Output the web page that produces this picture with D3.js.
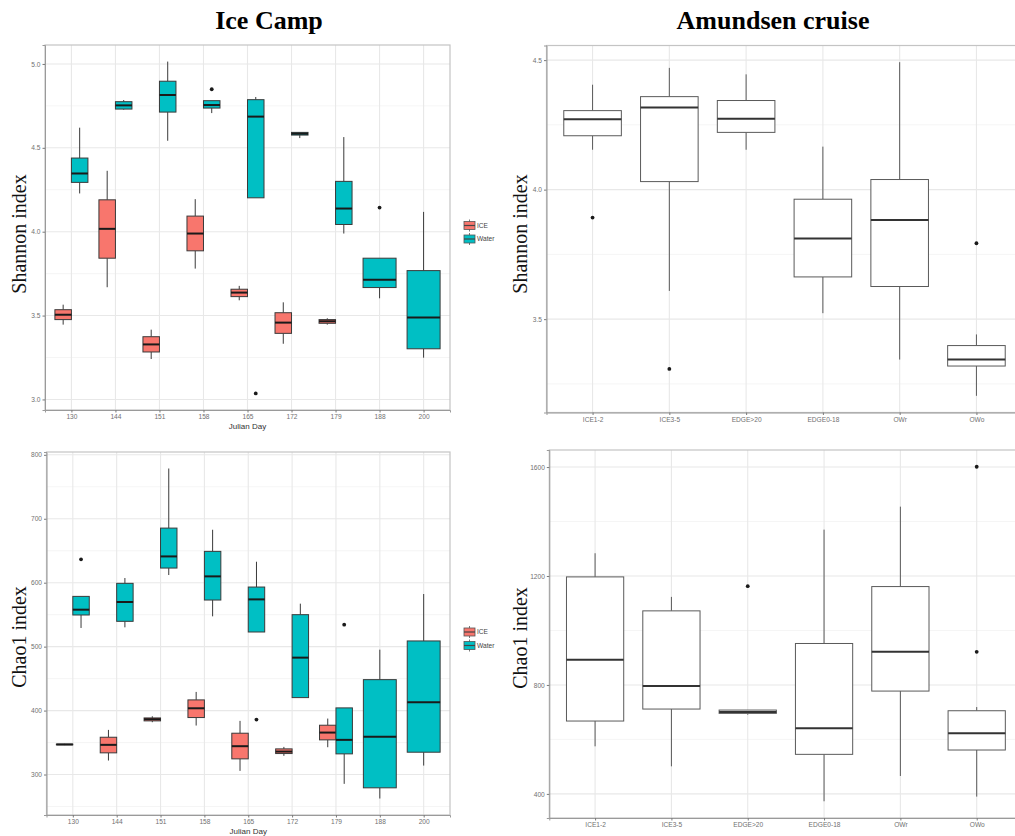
<!DOCTYPE html>
<html>
<head>
<meta charset="utf-8">
<script src="https://cdn.jsdelivr.net/npm/d3@7"></script>
<style>
	body { margin: 0; background: #fff; }
	svg { display: block; }
</style>
</head>
<body>
<div id="chart"></div>
<script>
let width = 1015,
	height = 836;

const julianDays = ['130', '144', '151', '158', '165', '172', '179', '188', '200'];
const habitats = ['ICE', 'Water'];
const habitatColors = ['#F8766D', '#00BFC4'];
const stations = ['ICE1-2', 'ICE3-5', 'EDGE>20', 'EDGE0-18', 'OWr', 'OWo'];

// rows are [category, whisker low, q1, median, q3, whisker high]
const shannonIce = [
	['130', 3.446, 3.476, 3.505, 3.535, 3.565],
	['144', 3.669, 3.842, 4.017, 4.19, 4.363],
	['151', 3.241, 3.283, 3.328, 3.374, 3.416],
	['158', 3.78, 3.886, 3.989, 4.093, 4.194],
	['165', 3.591, 3.613, 3.637, 3.657, 3.677],
	['172', 3.332, 3.394, 3.458, 3.517, 3.579],
	['179', 3.446, 3.454, 3.466, 3.476, 3.484],
];
const shannonWater = [
	['130', 4.228, 4.294, 4.347, 4.439, 4.62],
	['144', 4.727, 4.731, 4.753, 4.775, 4.785],
	['151', 4.542, 4.713, 4.815, 4.897, 5.014],
	['158', 4.707, 4.737, 4.755, 4.781, 4.781],
	['165', 4.202, 4.202, 4.686, 4.787, 4.803],
	['172', 4.558, 4.576, 4.584, 4.592, 4.592],
	['179', 3.989, 4.043, 4.138, 4.3, 4.564],
	['188', 3.603, 3.667, 3.714, 3.842, 3.842],
	['200', 3.249, 3.302, 3.488, 3.768, 4.118],
];
const shannonOutliers = [
	['158', 'Water', 4.849],
	['165', 'Water', 3.036],
	['188', 'Water', 4.144],
];

const chaoIce = [
	['130', 346, 346.5, 347, 347.5, 348],
	['144', 321.9, 333.9, 346.4, 358.3, 369.8],
	['151', 381.8, 383.9, 386.5, 388.5, 391.1],
	['158', 376.6, 389.1, 403.6, 416.7, 429.2],
	['165', 305.7, 324.5, 344.3, 364.6, 383.9],
	['172', 329.2, 332.8, 335.9, 340.1, 343.2],
	['179', 342.7, 354.2, 365.6, 377.1, 387.5],
];
const chaoWater = [
	['130', 529.2, 549.5, 557.8, 578.6, 578.6],
	['144', 530.2, 539.6, 569.8, 599.0, 607.3],
	['151', 612.0, 622.9, 641.1, 685.4, 778.6],
	['158', 547.4, 572.9, 609.9, 649.0, 682.8],
	['165', 522.9, 522.9, 573.9, 593.2, 632.8],
	['172', 420.3, 420.3, 482.8, 550.0, 567.2],
	['179', 285.4, 332.3, 354.2, 404.2, 404.2],
	['188', 262.5, 279.2, 358.9, 448.4, 495.3],
	['200', 314.0, 334.9, 413.0, 508.9, 582.3],
];
const chaoOutliers = [
	['130', 'Water', 636.5],
	['165', 'Water', 385.9],
	['179', 'Water', 534.4],
];

const cruiseShannon = [
	['ICE1-2', 4.154, 4.208, 4.272, 4.305, 4.405],
	['ICE3-5', 3.609, 4.031, 4.317, 4.359, 4.47],
	['EDGE>20', 4.154, 4.221, 4.274, 4.344, 4.445],
	['EDGE0-18', 3.523, 3.663, 3.811, 3.963, 4.166],
	['OWr', 3.344, 3.626, 3.883, 4.039, 4.492],
	['OWo', 3.204, 3.319, 3.344, 3.398, 3.441],
];
const cruiseShannonOutliers = [
	['ICE1-2', 'all', 3.892],
	['ICE3-5', 'all', 3.308],
	['OWo', 'all', 3.793],
];
const cruiseChao = [
	['ICE1-2', 574.6, 667.5, 892.4, 1196.7, 1283.5],
	['ICE3-5', 501.2, 711.5, 795.8, 1072.0, 1123.3],
	['EDGE>20', 690.7, 695.6, 700.5, 707.8, 707.8],
	['EDGE0-18', 372.9, 545.2, 640.6, 952.2, 1370.2],
	['OWr', 465.8, 777.5, 921.7, 1161.2, 1454.6],
	['OWo', 390.0, 561.1, 622.2, 705.3, 718.8],
];
const cruiseChaoOutliers = [
	['EDGE>20', 'all', 1162.5],
	['OWo', 'all', 1601.2],
	['OWo', 'all', 921.7],
];

const shannonCampTicks = [3.0, 3.5, 4.0, 4.5, 5.0];
const chaoCampTicks = [300, 400, 500, 600, 700, 800];
const shannonCruiseTicks = [3.5, 4.0, 4.5];
const chaoCruiseTicks = [400, 800, 1200, 1600];

var svg = d3.select('#chart').append('svg').attr('width', width).attr('height', height);
svg.append('rect').attr('width', width).attr('height', height).attr('fill', '#fff');

function toBoxes(rows, group) {
	return rows.map(function (r) {
		return { cat: r[0], group: group, lo: r[1], q1: r[2], med: r[3], q3: r[4], hi: r[5] };
	});
}

function drawPanel(p) {
	var g = svg.append('g');

	var x = d3.scalePoint().domain(p.cats).range([p.left, p.right]).padding(0.6);
	var step = x.step();

	// y range from whiskers and outliers, 5% expansion like ggplot
	var vals = [];
	p.boxes.forEach(function (b) {
		vals.push(b.lo, b.hi);
	});
	p.outliers.forEach(function (o) {
		vals.push(o[2]);
	});
	var ext = d3.extent(vals);
	var pad = (ext[1] - ext[0]) * 0.05;
	var y = d3.scaleLinear().domain([ext[0] - pad, ext[1] + pad]).range([p.bottom, p.top]);

	// minor grid at half steps
	var half = (p.ticks[1] - p.ticks[0]) / 2;
	var minor = [];
	for (var v = p.ticks[0] - half; v <= y.domain()[1]; v += half * 2) {
		if (v >= y.domain()[0]) minor.push(v);
	}
	g.selectAll('.minor')
		.data(minor)
		.enter()
		.append('line')
		.attr('x1', p.left)
		.attr('x2', p.right)
		.attr('y1', (d) => y(d))
		.attr('y2', (d) => y(d))
		.attr('stroke', '#f3f3f3')
		.attr('stroke-width', 0.8);
	g.selectAll('.major')
		.data(p.ticks)
		.enter()
		.append('line')
		.attr('x1', p.left)
		.attr('x2', p.right)
		.attr('y1', (d) => y(d))
		.attr('y2', (d) => y(d))
		.attr('stroke', '#e8e8e8')
		.attr('stroke-width', 1.1);
	g.selectAll('.vgrid')
		.data(p.cats)
		.enter()
		.append('line')
		.attr('x1', (d) => x(d))
		.attr('x2', (d) => x(d))
		.attr('y1', p.top)
		.attr('y2', p.bottom)
		.attr('stroke', '#e8e8e8')
		.attr('stroke-width', 1.1);

	// dodge: boxes share 0.75 of a step when both groups exist
	var groupsAt = {};
	p.boxes.forEach(function (b) {
		groupsAt[b.cat] = (groupsAt[b.cat] || []).concat(b.group);
	});
	function boxX(cat, group) {
		var gs = groupsAt[cat] || [group];
		var w = (step * 0.75) / gs.length;
		var i = gs.indexOf(group);
		if (i < 0) i = 0;
		return { x0: x(cat) - (step * 0.75) / 2 + i * w, w: w };
	}

	var boxG = g.selectAll('.box').data(p.boxes).enter().append('g');
	boxG.each(function (b) {
		var sel = d3.select(this);
		var bx = boxX(b.cat, b.group);
		var cx = bx.x0 + bx.w / 2;
		sel.append('line')
			.attr('x1', cx)
			.attr('x2', cx)
			.attr('y1', y(b.hi))
			.attr('y2', y(b.q3))
			.attr('stroke', p.stroke)
			.attr('stroke-width', 1);
		sel.append('line')
			.attr('x1', cx)
			.attr('x2', cx)
			.attr('y1', y(b.q1))
			.attr('y2', y(b.lo))
			.attr('stroke', p.stroke)
			.attr('stroke-width', 1);
		sel.append('rect')
			.attr('x', bx.x0)
			.attr('y', y(b.q3))
			.attr('width', bx.w)
			.attr('height', Math.max(0.5, y(b.q1) - y(b.q3)))
			.attr('fill', p.fill(b.group))
			.attr('stroke', p.stroke)
			.attr('stroke-width', 1);
		sel.append('line')
			.attr('x1', bx.x0)
			.attr('x2', bx.x0 + bx.w)
			.attr('y1', y(b.med))
			.attr('y2', y(b.med))
			.attr('stroke', p.medStroke)
			.attr('stroke-width', 2);
	});

	g.selectAll('.outlier')
		.data(p.outliers)
		.enter()
		.append('circle')
		.attr('cx', function (d) {
			var bx = boxX(d[0], d[1]);
			return bx.x0 + bx.w / 2;
		})
		.attr('cy', (d) => y(d[2]))
		.attr('r', 1.9)
		.attr('fill', '#1a1a1a');

	// panel border
	g.append('rect')
		.attr('x', p.left)
		.attr('y', p.top)
		.attr('width', p.right - p.left)
		.attr('height', p.bottom - p.top)
		.attr('fill', 'none')
		.attr('stroke', '#c4c4c4')
		.attr('stroke-width', 1.2);

	var yAxis = d3.axisLeft(y).tickValues(p.ticks).tickFormat(p.fmt).tickSize(2.5).tickPadding(2);
	var ya = g.append('g').attr('transform', 'translate(' + p.left + ',0)').call(yAxis);
	var xAxis = d3.axisBottom(x).tickSize(2.5).tickPadding(2);
	var xa = g.append('g').attr('transform', 'translate(0,' + p.bottom + ')').call(xAxis);
	[ya, xa].forEach(function (a) {
		a.select('.domain').attr('stroke', '#9a9a9a').attr('stroke-width', 1);
		a.selectAll('.tick line').attr('stroke', '#7a7a7a');
		a.selectAll('.tick text')
			.attr('fill', '#707070')
			.style('font-family', 'Liberation Sans, Arial, sans-serif')
			.style('font-size', '6.6px');
	});

	g.append('text')
		.attr('transform', 'translate(' + p.yTitleX + ',' + p.yTitleY + ') rotate(-90)')
		.attr('text-anchor', 'middle')
		.style('font-family', 'Liberation Serif, Times New Roman, serif')
		.style('font-size', '20px')
		.attr('fill', '#111')
		.text(p.yTitle);

	if (p.xTitle) {
		g.append('text')
			.attr('x', (p.left + p.right) / 2)
			.attr('y', p.bottom + 19)
			.attr('text-anchor', 'middle')
			.style('font-family', 'Liberation Sans, Arial, sans-serif')
			.style('font-size', '8px')
			.attr('fill', '#333')
			.text(p.xTitle);
	}

	if (p.legendY) {
		var lg = g.append('g');
		habitats.forEach(function (h, i) {
			var ly = p.legendY + i * 13.5;
			lg.append('line')
				.attr('x1', 469.5)
				.attr('x2', 469.5)
				.attr('y1', ly - 6)
				.attr('y2', ly + 6)
				.attr('stroke', '#555')
				.attr('stroke-width', 0.8);
			lg.append('rect')
				.attr('x', 464)
				.attr('y', ly - 4)
				.attr('width', 11)
				.attr('height', 8)
				.attr('fill', habitatColors[i])
				.attr('stroke', '#555')
				.attr('stroke-width', 0.8);
			lg.append('line')
				.attr('x1', 464)
				.attr('x2', 475)
				.attr('y1', ly)
				.attr('y2', ly)
				.attr('stroke', '#444')
				.attr('stroke-width', 1.2);
			lg.append('text')
				.attr('x', 477)
				.attr('y', ly + 2.4)
				.style('font-family', 'Liberation Sans, Arial, sans-serif')
				.style('font-size', '6.6px')
				.attr('fill', '#444')
				.text(h);
		});
	}
}

var habitatColor = d3.scaleOrdinal().domain(habitats).range(habitatColors);

drawPanel({
	left: 45,
	right: 450,
	top: 45,
	bottom: 410,
	cats: julianDays,
	boxes: toBoxes(shannonIce, 'ICE').concat(toBoxes(shannonWater, 'Water')),
	outliers: shannonOutliers,
	ticks: shannonCampTicks,
	fmt: d3.format('.1f'),
	fill: habitatColor,
	stroke: '#3a3a3a',
	medStroke: '#1a1a1a',
	yTitle: 'Shannon index',
	yTitleX: 26,
	yTitleY: 234,
	xTitle: 'Julian Day',
	legendY: 225.5,
});

drawPanel({
	left: 546.5,
	right: 1022.5,
	top: 45.5,
	bottom: 412.5,
	cats: stations,
	boxes: toBoxes(cruiseShannon, 'all'),
	outliers: cruiseShannonOutliers,
	ticks: shannonCruiseTicks,
	fmt: d3.format('.1f'),
	fill: () => '#fff',
	stroke: '#5a5a5a',
	medStroke: '#333',
	yTitle: 'Shannon index',
	yTitleX: 527,
	yTitleY: 234,
});

drawPanel({
	left: 46.5,
	right: 450,
	top: 452,
	bottom: 815,
	cats: julianDays,
	boxes: toBoxes(chaoIce, 'ICE').concat(toBoxes(chaoWater, 'Water')),
	outliers: chaoOutliers,
	ticks: chaoCampTicks,
	fmt: d3.format('d'),
	fill: habitatColor,
	stroke: '#3a3a3a',
	medStroke: '#1a1a1a',
	yTitle: 'Chao1 index',
	yTitleX: 26,
	yTitleY: 637,
	xTitle: 'Julian Day',
	legendY: 632,
});

drawPanel({
	left: 549.3,
	right: 1022.5,
	top: 450,
	bottom: 818,
	cats: stations,
	boxes: toBoxes(cruiseChao, 'all'),
	outliers: cruiseChaoOutliers,
	ticks: chaoCruiseTicks,
	fmt: d3.format('d'),
	fill: () => '#fff',
	stroke: '#5a5a5a',
	medStroke: '#333',
	yTitle: 'Chao1 index',
	yTitleX: 527,
	yTitleY: 638,
});

svg.append('text')
	.attr('x', 269)
	.attr('y', 29)
	.attr('text-anchor', 'middle')
	.style('font-family', 'Liberation Serif, Times New Roman, serif')
	.style('font-weight', 'bold')
	.style('font-size', '26px')
	.text('Ice Camp');
svg.append('text')
	.attr('x', 773)
	.attr('y', 29)
	.attr('text-anchor', 'middle')
	.style('font-family', 'Liberation Serif, Times New Roman, serif')
	.style('font-weight', 'bold')
	.style('font-size', '26px')
	.text('Amundsen cruise');
</script>
</body>
</html>
